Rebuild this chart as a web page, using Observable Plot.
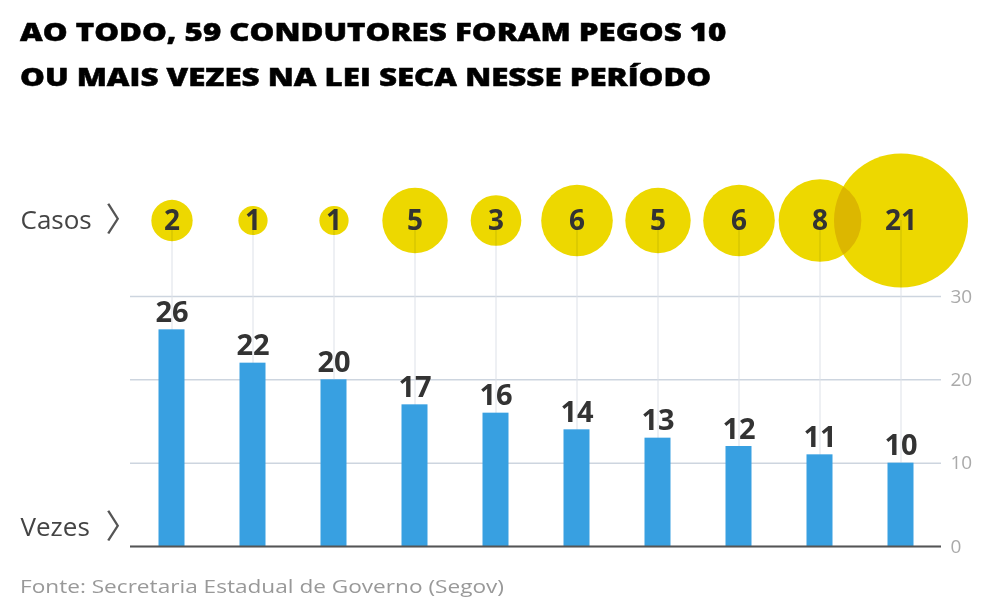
<!DOCTYPE html>
<html>
<head>
<meta charset="utf-8">
<script src="https://cdn.jsdelivr.net/npm/d3@7"></script>
<script src="https://cdn.jsdelivr.net/npm/@observablehq/plot@0.6"></script>
<style>
  html, body { margin: 0; padding: 0; background: #fff; }
  body { width: 984px; height: 609px; position: relative; overflow: hidden; font-family: "Open Sans", sans-serif; }
  #title { position: absolute; left: 20px; top: 9px; margin: 0; font-size: 25.5px; font-weight: 800; line-height: 45px; color: #000; -webkit-text-stroke: 0.5px #000; white-space: nowrap; transform: scaleX(1.225); transform-origin: 0 0; }
  #chart { position: absolute; left: 0; top: 110px; }
  #source { position: absolute; left: 20px; top: 573px; font-size: 19px; color: #999; white-space: nowrap; transform: scaleX(1.19); transform-origin: 0 0; }
</style>
</head>
<body>
<div id="title">AO TODO, 59 CONDUTORES FORAM PEGOS 10<br>OU MAIS VEZES NA LEI SECA NESSE PERÍODO</div>
<div id="chart"></div>
<div id="source">Fonte: Secretaria Estadual de Governo (Segov)</div>
<script>
const vezes = [26, 22, 20, 17, 16, 14, 13, 12, 11, 10];
const casos = [2, 1, 1, 5, 3, 6, 5, 6, 8, 21];
const yTicks = [0, 10, 20, 30];
const rowLabels = ["Casos", "Vezes"];

const data = vezes.map((v, i) => ({key: String(v), vezes: v, casos: casos[i]}));

const chart = Plot.plot({
  width: 984,
  height: 460,
  marginTop: 186,
  marginBottom: 24,
  marginLeft: 130,
  marginRight: 43,
  style: {fontFamily: "Open Sans, sans-serif", background: "transparent", overflow: "visible"},
  x: {type: "band", domain: data.map(d => d.key), padding: 0, axis: null},
  y: {domain: [0, 30], axis: null},
  r: {type: "sqrt", domain: [0, 21], range: [0, 67]},
  marks: [
    Plot.gridY(yTicks, {stroke: "#cdd5df", strokeOpacity: 1, strokeWidth: 1.5}),
    Plot.axisY(yTicks, {anchor: "right", tickSize: 0, tickPadding: 9, fontSize: 19, fill: "#aaa", label: null}),
    Plot.ruleX(data, {x: "key", stroke: "#dde1e8", strokeWidth: 1, insetTop: -76}),
    Plot.barY(data, {x: "key", y: "vezes", fill: "#38a0e1", insetLeft: 27.5, insetRight: 27.5}),
    Plot.ruleY([0], {stroke: "#555", strokeWidth: 2}),
    Plot.text(data, {x: "key", y: "vezes", text: d => String(d.vezes), lineAnchor: "bottom", dy: -8, fontSize: 29, fontWeight: "bold", fill: "#333"}),
    Plot.dot(data, {x: "key", r: "casos", frameAnchor: "top", dy: -76, fill: "#edd800", stroke: "none", mixBlendMode: "multiply"}),
    Plot.text(data, {x: "key", text: d => String(d.casos), frameAnchor: "top", dy: -75, lineAnchor: "middle", fontSize: 28, fontWeight: "bold", fill: "#333"}),
    Plot.text([rowLabels[0]], {text: d => d, frameAnchor: "top-left", dx: -110, dy: -76, textAnchor: "start", lineAnchor: "middle", fontSize: 26, fill: "#444", letterSpacing: 0.5}),
    Plot.text([rowLabels[1]], {text: d => d, frameAnchor: "bottom-left", dx: -110, dy: -19, textAnchor: "start", lineAnchor: "middle", fontSize: 26, fill: "#444", letterSpacing: 0.5}),
    Plot.text([rowLabels[0]], {text: () => "〉", frameAnchor: "top-left", dx: -25, dy: -76, textAnchor: "start", lineAnchor: "middle", fontSize: 33, fill: "#555", fontFamily: "Noto Sans CJK SC"}),
    Plot.text([rowLabels[1]], {text: () => "〉", frameAnchor: "bottom-left", dx: -25, dy: -19, textAnchor: "start", lineAnchor: "middle", fontSize: 33, fill: "#555", fontFamily: "Noto Sans CJK SC"})
  ]
});
document.getElementById("chart").appendChild(chart);
</script>
</body>
</html>
